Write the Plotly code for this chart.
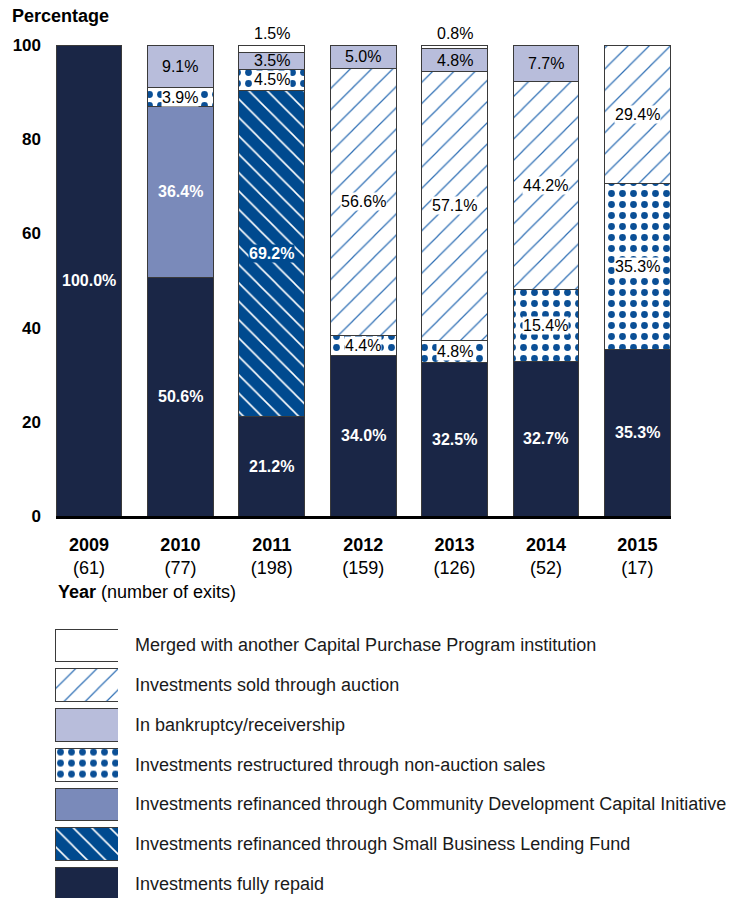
import plotly.graph_objects as go

#####################
##### DATA #####
#####################

years = ["2009", "2010", "2011", "2012", "2013", "2014", "2015"]
exits = [61, 77, 198, 159, 126, 52, 17]

repaid = [100.0, 50.6, 21.2, 34.0, 32.5, 32.7, 35.3]
sblf = [None, None, 69.2, None, None, None, None]
cdci = [None, 36.4, None, None, None, None, None]
restructured = [None, 3.9, 4.5, 4.4, 4.8, 15.4, 35.3]
auction = [None, None, None, 56.6, 57.1, 44.2, 29.4]
bankruptcy = [None, 9.1, 3.5, 5.0, 4.8, 7.7, None]
merged = [None, None, 1.5, None, 0.8, None, None]

# series in stacking order (bottom -> top)
series = [
    ("Investments fully repaid", repaid,
     dict(color="#1a2646"), "white"),
    ("Investments refinanced through Small Business Lending Fund", sblf,
     dict(color="#004a8f", pattern=dict(shape="\\", bgcolor="#004a8f", fgcolor="white",
                                         size=13, solidity=0.12, fillmode="replace")), "white"),
    ("Investments refinanced through Community Development Capital Initiative", cdci,
     dict(color="#7a8aba"), "white"),
    ("Investments restructured through non-auction sales", restructured,
     dict(color="white", pattern=dict(shape=".", bgcolor="white", fgcolor="#0a4f96",
                                      size=11, solidity=0.3, fillmode="replace")), "black"),
    ("Investments sold through auction", auction,
     dict(color="white", pattern=dict(shape="/", bgcolor="white", fgcolor="#2f6fb5",
                                      size=15, solidity=0.08, fillmode="replace")), "black"),
    ("In bankruptcy/receivership", bankruptcy,
     dict(color="#b8bddb"), "black"),
    ("Merged with another Capital Purchase Program institution", merged,
     dict(color="white"), "black"),
]

# legend rows, top -> bottom (indexes into series)
legend_order = [6, 4, 5, 3, 2, 1, 0]

# page body has an 8px margin, so the figure is drawn 8px in from the corner
W, H = 726, 890
FONT = "Liberation Sans, Arial, sans-serif"
OUTLINE = dict(color="#3a3a3a", width=1)

fig = go.Figure()
xs = list(range(len(years)))
annotations = []
base = [0.0] * len(years)

for name, vals, marker, txtcol in series:
    fig.add_trace(go.Bar(x=xs, y=vals, name=name, width=0.72,
                         marker=dict(**marker, line=OUTLINE),
                         showlegend=False, hoverinfo="y+name"))
    for i, v in enumerate(vals):
        if v is None:
            continue
        label = f"{v:.1f}%"
        if name.startswith("Merged"):
            # tiny top slice: label above the bar
            annotations.append(dict(x=i, y=base[i] + v, xref="x", yref="y", text=label,
                                    showarrow=False, yanchor="bottom", yshift=1,
                                    font=dict(family=FONT, size=16, color="black")))
        else:
            bg = None
            if "pattern" in marker:
                bg = marker["pattern"]["bgcolor"]
            bold = txtcol == "white"
            annotations.append(dict(x=i, y=base[i] + v / 2, xref="x", yref="y",
                                    text=f"<b>{label}</b>" if bold else label,
                                    showarrow=False, bgcolor=bg, borderpad=0,
                                    font=dict(family=FONT, size=16, color=txtcol)))
        base[i] += v

##########################
##### CUSTOM LEGEND #####
##########################

for row, k in enumerate(legend_order):
    name, vals, marker, txtcol = series[k]
    fig.add_trace(go.Bar(x=[1], y=[row], orientation="h", width=0.82,
                         marker=dict(**marker, line=OUTLINE),
                         xaxis="x2", yaxis="y2", showlegend=False, hoverinfo="skip"))
    annotations.append(dict(x=125 / W, y=row, xref="paper", yref="y2", text=name,
                            showarrow=False, xanchor="left", yanchor="middle",
                            font=dict(family=FONT, size=18, color="#1a1a1a")))

annotations.append(dict(x=2 / W, y=(H - 8) / H, xref="paper", yref="paper",
                        text="<b>Percentage</b>", showarrow=False,
                        xanchor="left", yanchor="middle",
                        font=dict(family=FONT, size=18, color="black")))
annotations.append(dict(x=48 / W, y=(H - 584) / H, xref="paper", yref="paper",
                        text="<b>Year</b> (number of exits)", showarrow=False,
                        xanchor="left", yanchor="middle",
                        font=dict(family=FONT, size=18, color="black")))

fig.update_layout(
    width=W, height=H,
    margin=dict(l=0, r=0, t=0, b=0),
    barmode="stack",
    plot_bgcolor="white", paper_bgcolor="white",
    font=dict(family=FONT, color="black"),
    annotations=annotations,
    xaxis=dict(domain=[48 / W, 663 / W], range=[-0.361, 6.368],
               tickvals=xs, ticktext=[f"<b>{y}</b><br>({n})" for y, n in zip(years, exits)],
               showline=True, linecolor="black", linewidth=3, showgrid=False,
               zeroline=False, ticks="", tickfont=dict(size=18),
               ticklabelstandoff=10, automargin=False),
    yaxis=dict(domain=[(H - 508) / H, (H - 37) / H], range=[0, 100],
               tickvals=[0, 20, 40, 60, 80, 100],
               ticktext=[f"<b>{t}</b>" for t in [0, 20, 40, 60, 80, 100]],
               showline=False, showgrid=False, zeroline=False, ticks="",
               tickfont=dict(size=17), ticklabelstandoff=14, automargin=False),
    xaxis2=dict(domain=[47 / W, 110 / W], range=[0, 1], anchor="y2", visible=False),
    yaxis2=dict(domain=[0, (H - 617.6) / H], range=[6.352, -0.5], anchor="x2", visible=False),
)

fig.write_html("out.html")
